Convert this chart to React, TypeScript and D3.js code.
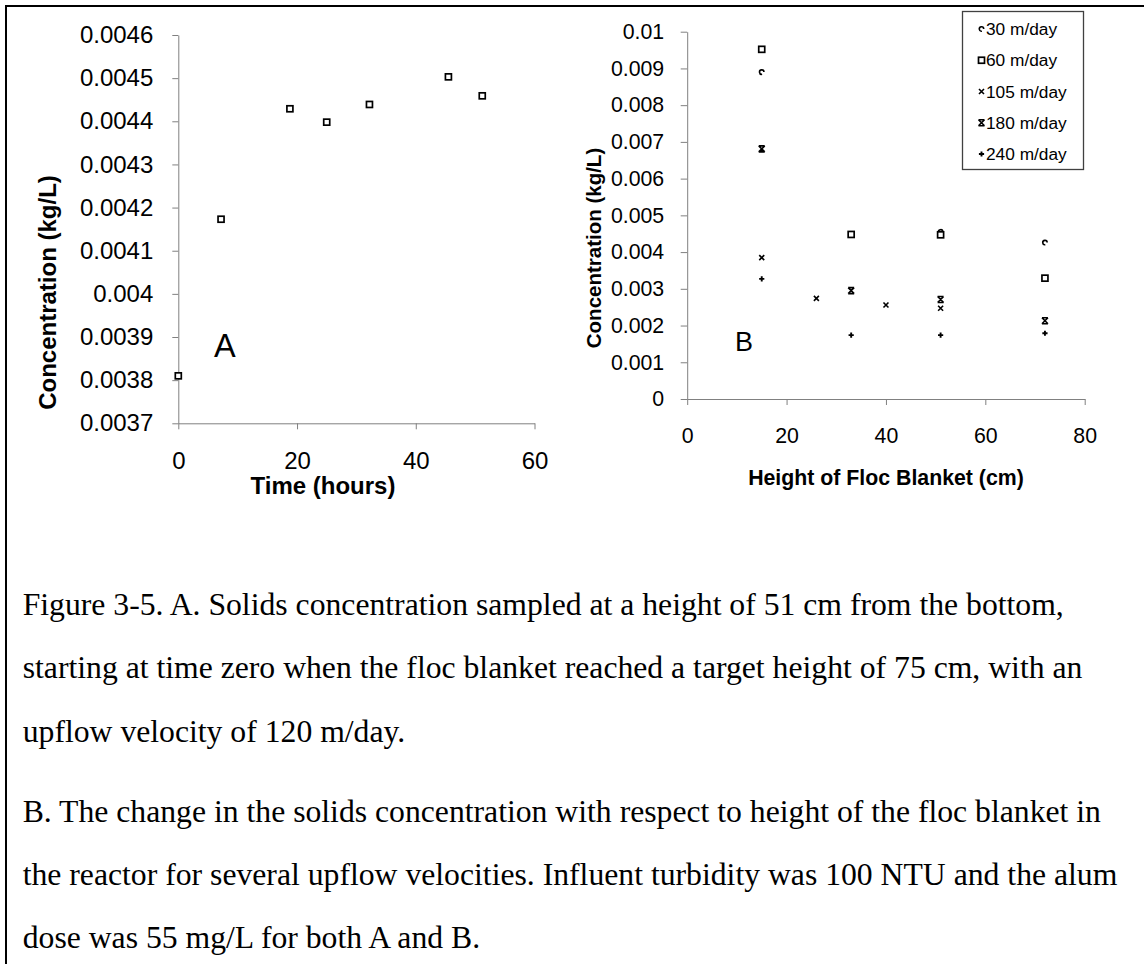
import * as d3 from 'd3';
import React, { useRef, useEffect } from 'react';

// panel A: solids concentration over time (120 m/day)
const timeHours = [0, 7.2, 18.8, 25, 32.2, 45.5, 51.2];
const concA = [0.00381, 0.004173, 0.004429, 0.004398, 0.004439, 0.004503, 0.004459];
const yTickLabelsA = ['0.0037', '0.0038', '0.0039', '0.004', '0.0041', '0.0042', '0.0043', '0.0044', '0.0045', '0.0046'];
const xTicksA = [0, 20, 40, 60];

// panel B: concentration vs floc blanket height
const seriesNames = ['30 m/day', '60 m/day', '105 m/day', '180 m/day', '240 m/day'];
const heights30 = [15, 51, 72];
const conc30 = [0.0089, 0.00455, 0.00426];
const heights60 = [15, 33, 51, 72];
const conc60 = [0.00952, 0.00448, 0.00447, 0.00329];
const heights105 = [15, 26, 40, 51];
const conc105 = [0.00385, 0.00274, 0.00256, 0.00247];
const heights180 = [15, 33, 51, 72];
const conc180 = [0.00681, 0.00295, 0.00271, 0.00213];
const heights240 = [15, 33, 51, 72];
const conc240 = [0.00327, 0.00174, 0.00174, 0.00179];
const yTickLabelsB = ['0', '0.001', '0.002', '0.003', '0.004', '0.005', '0.006', '0.007', '0.008', '0.009', '0.01'];
const xTicksB = [0, 20, 40, 60, 80];

const captionLines = [
  'Figure 3-5. A. Solids concentration sampled at a height of 51 cm from the bottom,',
  'starting at time zero when the floc blanket reached a target height of 75 cm, with an',
  'upflow velocity of 120 m/day.',
  'B. The change in the solids concentration with respect to height of the floc blanket in',
  'the reactor for several upflow velocities. Influent turbidity was 100 NTU and the alum',
  'dose was 55 mg/L for both A and B.',
];
const captionBaselines = [615, 678, 742, 822, 885, 948];

const SANS = 'Liberation Sans, Arial, sans-serif';
const SERIF = 'Liberation Serif, Times New Roman, serif';
const AXIS = '#808080';

// marker shapes, drawn around 0,0
function drawMarker(g, kind) {
  if (kind === 0) {
    const arc = d3.arc().innerRadius(1.4).outerRadius(3).startAngle((170 * Math.PI) / 180).endAngle((450 * Math.PI) / 180);
    g.append('path').attr('d', arc()).attr('fill', '#000');
  } else if (kind === 1) {
    g.append('rect').attr('x', -3).attr('y', -3).attr('width', 6).attr('height', 6)
      .attr('fill', '#fff').attr('stroke', '#000').attr('stroke-width', 1.7);
  } else if (kind === 2) {
    g.append('path').attr('d', 'M-2.5,-2.5L2.5,2.5M2.5,-2.5L-2.5,2.5')
      .attr('stroke', '#000').attr('stroke-width', 1.6);
  } else if (kind === 3) {
    g.append('path').attr('d', 'M-3,-3L3,3M3,-3L-3,3M-3,-3L3,-3M-3,3L3,3')
      .attr('stroke', '#000').attr('stroke-width', 1.6);
  } else {
    g.append('path').attr('d', 'M-2.6,0L2.6,0M0,-2.6L0,2.6')
      .attr('stroke', '#000').attr('stroke-width', 1.9);
  }
}

function Figure({ width, height }) {
  const ref = useRef(null);

  useEffect(() => {
    const svg = d3.select(ref.current);
    svg.selectAll('*').remove();

    svg.append('rect').attr('width', width).attr('height', height).attr('fill', '#fff');

    // frame (only top + left edges show)
    svg.append('line').attr('x1', 5).attr('x2', width).attr('y1', 6).attr('y2', 6).attr('stroke', '#000').attr('stroke-width', 2);
    svg.append('line').attr('x1', 6).attr('x2', 6).attr('y1', 5).attr('y2', height).attr('stroke', '#000').attr('stroke-width', 2);

    // ---------- panel A ----------
    const xA = d3.scaleLinear().domain([0, 60]).range([178.3, 534.5]);
    const yA = d3.scaleLinear().domain([0.0037, 0.0046]).range([423.3, 35]);

    const gyA = svg.append('g').attr('transform', `translate(${xA(0)},0)`)
      .call(d3.axisLeft(yA).tickValues(yTickLabelsA.map(Number)).tickFormat((d, i) => yTickLabelsA[i]).tickSize(6).tickSizeOuter(0).tickPadding(19));
    const gxA = svg.append('g').attr('transform', `translate(0,${yA(0.0037)})`)
      .call(d3.axisBottom(xA).tickValues(xTicksA).tickFormat(d3.format('d')).tickSize(6).tickSizeOuter(0).tickPadding(23));
    [gyA, gxA].forEach(g => {
      g.selectAll('path,line').attr('stroke', AXIS);
      g.selectAll('text').attr('font-family', SANS).attr('font-size', 24).attr('fill', '#000');
    });

    svg.append('text').attr('transform', 'translate(55.5,292.5) rotate(-90)').attr('text-anchor', 'middle')
      .attr('font-family', SANS).attr('font-weight', 'bold').attr('font-size', 24).text('Concentration (kg/L)');
    svg.append('text').attr('x', 323).attr('y', 494).attr('text-anchor', 'middle')
      .attr('font-family', SANS).attr('font-weight', 'bold').attr('font-size', 24).text('Time (hours)');
    svg.append('text').attr('x', 214).attr('y', 357).attr('font-family', SANS).attr('font-size', 32.5).text('A');

    timeHours.forEach((t, i) => {
      const g = svg.append('g').attr('transform', `translate(${xA(t)},${yA(concA[i])})`);
      drawMarker(g, 1);
    });

    // ---------- panel B ----------
    const xB = d3.scaleLinear().domain([0, 80]).range([687.2, 1084.7]);
    const yB = d3.scaleLinear().domain([0, 0.01]).range([399, 31.7]);

    const gyB = svg.append('g').attr('transform', `translate(${xB(0)},0)`)
      .call(d3.axisLeft(yB).tickValues(yTickLabelsB.map(Number)).tickFormat((d, i) => yTickLabelsB[i]).tickSize(6.5).tickSizeOuter(0).tickPadding(16.5));
    const gxB = svg.append('g').attr('transform', `translate(0,${yB(0)})`)
      .call(d3.axisBottom(xB).tickValues(xTicksB).tickFormat(d3.format('d')).tickSize(6).tickSizeOuter(0).tickPadding(22.6));
    [gyB, gxB].forEach(g => {
      g.selectAll('path,line').attr('stroke', AXIS);
      g.selectAll('text').attr('font-family', SANS).attr('font-size', 21.3).attr('fill', '#000');
    });

    svg.append('text').attr('transform', 'translate(601,248) rotate(-90)').attr('text-anchor', 'middle')
      .attr('font-family', SANS).attr('font-weight', 'bold').attr('font-size', 20.5).text('Concentration (kg/L)');
    svg.append('text').attr('x', 886).attr('y', 484.5).attr('text-anchor', 'middle')
      .attr('font-family', SANS).attr('font-weight', 'bold').attr('font-size', 21.3).text('Height of Floc Blanket (cm)');
    svg.append('text').attr('x', 735).attr('y', 351).attr('font-family', SANS).attr('font-size', 27).text('B');

    const seriesB = [
      [heights30, conc30],
      [heights60, conc60],
      [heights105, conc105],
      [heights180, conc180],
      [heights240, conc240],
    ];
    seriesB.forEach(([xs, ys], k) => {
      xs.forEach((h, i) => {
        const g = svg.append('g').attr('transform', `translate(${xB(h)},${yB(ys[i])})`);
        drawMarker(g, k);
      });
    });

    // legend
    const legend = svg.append('g');
    legend.append('rect').attr('x', 962.5).attr('y', 11.5).attr('width', 121).attr('height', 158)
      .attr('fill', '#fff').attr('stroke', '#404040').attr('stroke-width', 1.3);
    const legendY = d3.scalePoint().domain(seriesNames).range([29, 154]);
    seriesNames.forEach((name, k) => {
      const g = legend.append('g').attr('transform', `translate(981.5,${legendY(name)})`);
      drawMarker(g, k);
      legend.append('text').attr('x', 986).attr('y', legendY(name)).attr('dy', '0.36em')
        .attr('font-family', SANS).attr('font-size', 17.3).text(name);
    });

    // caption
    captionLines.forEach((line, i) => {
      svg.append('text').attr('x', 22.7).attr('y', captionBaselines[i])
        .attr('font-family', SERIF).attr('font-size', 31.7).attr('fill', '#000').text(line);
    });
  }, []);

  return <svg ref={ref} width={width} height={height} style={{ position: 'absolute', left: 0, top: 0 }} />;
}

export default function App() {
  return <Figure width={1144} height={964} />;
}
